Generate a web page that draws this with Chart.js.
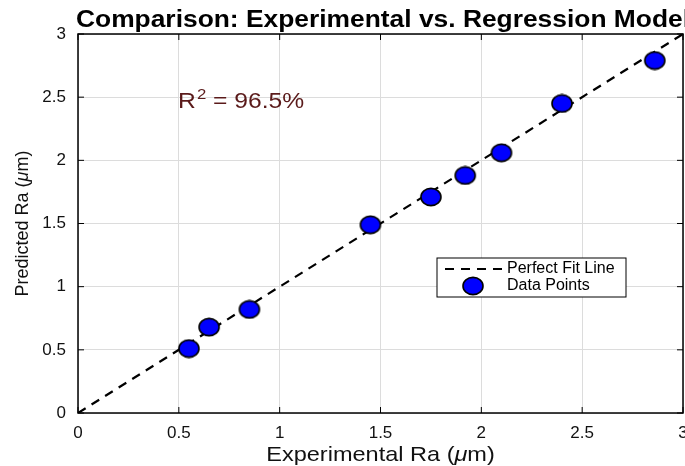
<!DOCTYPE html>
<html>
<head>
<meta charset="utf-8">
<script src="https://cdn.jsdelivr.net/npm/chart.js@4"></script>
<style>
  html, body { margin: 0; padding: 0; background: #fff; }
  #wrap { width: 685px; height: 466px; }
</style>
</head>
<body>
<div id="wrap"><canvas id="chart"></canvas></div>
<script>
// data
const experimental = [0.55, 0.65, 0.85, 1.45, 1.75, 1.92, 2.10, 2.40, 2.86];
const predicted = [0.51, 0.68, 0.82, 1.49, 1.71, 1.88, 2.06, 2.45, 2.79];
const fitLine = [[0, 0], [3, 3]];
const tickValues = [0, 0.5, 1, 1.5, 2, 2.5, 3];
const titleText = "Comparison: Experimental vs. Regression Model";
const r2Text = "96.5%";

const FONT = "'Liberation Sans', Arial, sans-serif";

// slightly wide marker, like the original
function makeMarker() {
  const c = document.createElement("canvas");
  c.width = 24; c.height = 20;
  const g = c.getContext("2d");
  g.fillStyle = "#0000ff";
  g.strokeStyle = "#000";
  g.lineWidth = 1.6;
  g.beginPath();
  g.ellipse(12, 10, 10, 8.6, 0, 0, Math.PI * 2);
  g.fill(); g.stroke();
  return c;
}
const marker = makeMarker();

// draws text squeezed/stretched to a given width
function fitText(ctx, text, x, y, width) {
  const w = ctx.measureText(text).width;
  ctx.save();
  ctx.translate(x, y);
  ctx.scale(width / w, 1);
  ctx.fillText(text, 0, 0);
  ctx.restore();
}

// title, axis titles, R^2 note, box, inward ticks, legend
const extras = {
  id: "extras",
  afterDraw(chart) {
    const ctx = chart.ctx;
    const a = chart.chartArea;
    const xs = chart.scales.x, ys = chart.scales.y;
    ctx.save();

    // box + inward ticks
    ctx.strokeStyle = "#000";
    ctx.lineWidth = 1.5;
    ctx.strokeRect(a.left, a.top, a.right - a.left, a.bottom - a.top);
    ctx.lineWidth = 1;
    tickValues.forEach(function (v) {
      const px = xs.getPixelForValue(v);
      const py = ys.getPixelForValue(v);
      ctx.beginPath();
      ctx.moveTo(px, a.bottom); ctx.lineTo(px, a.bottom - 6);
      ctx.moveTo(px, a.top); ctx.lineTo(px, a.top + 6);
      ctx.moveTo(a.left, py); ctx.lineTo(a.left + 6, py);
      ctx.moveTo(a.right, py); ctx.lineTo(a.right - 6, py);
      ctx.stroke();
    });

    // title
    ctx.fillStyle = "#000";
    ctx.font = "bold 23px " + FONT;
    ctx.textAlign = "left";
    ctx.textBaseline = "alphabetic";
    fitText(ctx, titleText, 76, 27, 614);

    // axis titles with italic mu
    function mixed(parts, size, sx) {
      let w = 0;
      parts.forEach(function (p) {
        ctx.font = (p[1] ? "italic " : "") + size + "px " + FONT;
        w += ctx.measureText(p[0]).width;
      });
      ctx.scale(sx, 1);
      let x = -w / 2;
      parts.forEach(function (p) {
        ctx.font = (p[1] ? "italic " : "") + size + "px " + FONT;
        ctx.fillText(p[0], x, 0);
        x += ctx.measureText(p[0]).width;
      });
    }
    ctx.fillStyle = "#111";
    ctx.save();
    ctx.translate((a.left + a.right) / 2, 461);
    mixed([["Experimental Ra (", false], ["\u03bc", true], ["m)", false]], 21, 1.12);
    ctx.restore();
    ctx.save();
    ctx.translate(28, (a.top + a.bottom) / 2);
    ctx.rotate(-Math.PI / 2);
    mixed([["Predicted Ra (", false], ["\u03bc", true], ["m)", false]], 18, 1);
    ctx.restore();

    // R^2 note
    ctx.fillStyle = "#5a1a1a";
    ctx.save();
    ctx.translate(178, 108);
    ctx.scale(1.12, 1);
    ctx.font = "22px " + FONT;
    let rx = 0;
    ctx.fillText("R", rx, 0);
    rx += ctx.measureText("R").width;
    ctx.font = "15px " + FONT;
    ctx.fillText("2", rx + 1, -9);
    rx += ctx.measureText("2").width + 1;
    ctx.font = "22px " + FONT;
    ctx.fillText(" = " + r2Text, rx, 0);
    ctx.restore();

    // legend box
    const lx = 437, ly = 258, lw = 189, lh = 39;
    ctx.fillStyle = "#fff";
    ctx.fillRect(lx, ly, lw, lh);
    ctx.strokeStyle = "#000";
    ctx.lineWidth = 1;
    ctx.strokeRect(lx, ly, lw, lh);
    const ds = chart.data.datasets;
    ctx.lineWidth = 2.2;
    ctx.setLineDash([9, 7]);
    ctx.beginPath();
    ctx.moveTo(lx + 8, ly + 11); ctx.lineTo(lx + 66, ly + 11);
    ctx.stroke();
    ctx.setLineDash([]);
    ctx.drawImage(marker, lx + 36 - 12, ly + 28 - 10);
    ctx.fillStyle = "#000";
    ctx.font = "16px " + FONT;
    ctx.textBaseline = "middle";
    ctx.fillText(ds[0].label, lx + 70, ly + 11);
    ctx.fillText(ds[1].label, lx + 70, ly + 28);
    ctx.restore();
  }
};

const points = experimental.map(function (x, i) { return { x: x, y: predicted[i] }; });
const tickLabel = function (v) { return String(v); };

new Chart(document.getElementById("chart"), {
  type: "scatter",
  data: {
    datasets: [
      {
        type: "line",
        label: "Perfect Fit Line",
        data: fitLine.map(function (p) { return { x: p[0], y: p[1] }; }),
        borderColor: "#000",
        borderWidth: 2.2,
        borderDash: [9, 7],
        pointRadius: 0,
        fill: false,
        order: 2,
      },
      {
        label: "Data Points",
        data: points,
        pointStyle: marker,
        pointRadius: 10,
        order: 1,
      },
    ],
  },
  options: {
    responsive: true,
    maintainAspectRatio: false,
    animation: false,
    layout: { autoPadding: false, padding: { top: 34, right: 2, left: 0, bottom: 0 } },
    plugins: { legend: { display: false }, tooltip: { enabled: false } },
    scales: {
      x: {
        type: "linear",
        min: 0,
        max: 3,
        afterFit: function (s) { s.height = 53; s.paddingRight = 0; s.paddingLeft = 0; },
        afterBuildTicks: function (s) { s.ticks = tickValues.map(function (v) { return { value: v }; }); },
        grid: { color: "#dcdcdc", drawTicks: false },
        border: { display: false },
        ticks: { color: "#111", font: { family: FONT, size: 17 }, padding: 10, maxRotation: 0, autoSkip: false, callback: tickLabel },
      },
      y: {
        min: 0,
        max: 3,
        afterFit: function (s) { s.width = 78; s.paddingTop = 0; s.paddingBottom = 0; },
        afterBuildTicks: function (s) { s.ticks = tickValues.map(function (v) { return { value: v }; }); },
        grid: { color: "#dcdcdc", drawTicks: false },
        border: { display: false },
        ticks: { color: "#111", font: { family: FONT, size: 17 }, padding: 12, callback: tickLabel },
      },
    },
  },
  plugins: [extras],
});
</script>
</body>
</html>
